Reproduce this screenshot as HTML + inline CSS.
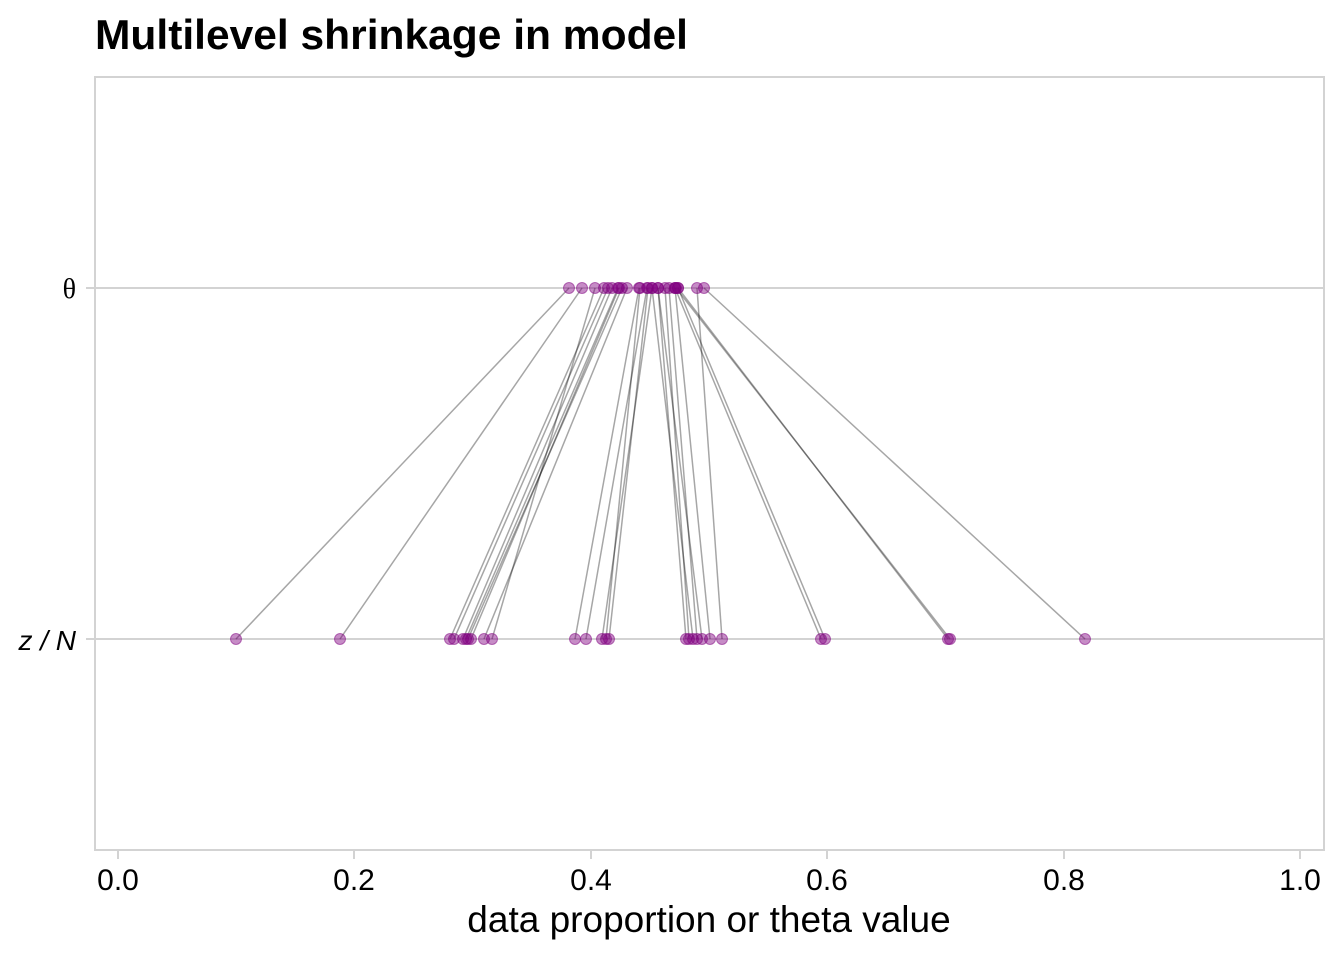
<!DOCTYPE html>
<html><head><meta charset="utf-8"><style>
body{margin:0;background:#fff;}
svg{display:block;font-family:"Liberation Sans",sans-serif;}
</style></head><body>
<svg width="1344" height="960" viewBox="0 0 1344 960">
<text x="95" y="49" font-size="42" font-weight="bold" fill="#000" textLength="593" lengthAdjust="spacingAndGlyphs">Multilevel shrinkage in model</text>
<rect x="95" y="77" width="1229" height="773" fill="none" stroke="#d3d3d3" stroke-width="2"/>
<line x1="95" y1="288" x2="1324" y2="288" stroke="#d3d3d3" stroke-width="2"/>
<line x1="95" y1="639" x2="1324" y2="639" stroke="#d3d3d3" stroke-width="2"/>
<g stroke="#d3d3d3" stroke-width="2">
<line x1="86" y1="288" x2="95" y2="288"/><line x1="86" y1="639" x2="95" y2="639"/>
<line x1="118" y1="850" x2="118" y2="859"/><line x1="354" y1="850" x2="354" y2="859"/><line x1="591" y1="850" x2="591" y2="859"/><line x1="827" y1="850" x2="827" y2="859"/><line x1="1064" y1="850" x2="1064" y2="859"/><line x1="1300" y1="850" x2="1300" y2="859"/>
</g>
<text x="76" y="298" font-size="28" text-anchor="end" font-family="Liberation Serif,serif">θ</text>
<text x="76" y="650" font-size="28" text-anchor="end" font-style="italic">z / N</text>
<g font-size="30" text-anchor="middle" fill="#000">
<text x="118" y="890">0.0</text><text x="354" y="890">0.2</text><text x="591" y="890">0.4</text><text x="827" y="890">0.6</text><text x="1064" y="890">0.8</text><text x="1300" y="890">1.0</text>
</g>
<text x="709" y="932" font-size="37" text-anchor="middle">data proportion or theta value</text>
<g stroke="#000" stroke-opacity="0.35" stroke-width="1.5">
<line x1="236" y1="639" x2="569" y2="288"/><line x1="340" y1="639" x2="582" y2="288"/>
<line x1="450" y1="639" x2="604" y2="288"/><line x1="454" y1="639" x2="608" y2="288"/>
<line x1="463" y1="639" x2="612" y2="288"/><line x1="466" y1="639" x2="618" y2="288"/>
<line x1="468" y1="639" x2="622" y2="288"/><line x1="471" y1="639" x2="619" y2="288"/>
<line x1="484" y1="639" x2="627" y2="288"/><line x1="492" y1="639" x2="595" y2="288"/>
<line x1="575" y1="639" x2="639" y2="288"/><line x1="586" y1="639" x2="647" y2="288"/>
<line x1="602" y1="639" x2="652" y2="288"/><line x1="606" y1="639" x2="640" y2="288"/>
<line x1="609" y1="639" x2="648" y2="288"/><line x1="686" y1="639" x2="658" y2="288"/>
<line x1="689" y1="639" x2="665" y2="288"/><line x1="693" y1="639" x2="652" y2="288"/>
<line x1="697" y1="639" x2="669" y2="288"/><line x1="702" y1="639" x2="658" y2="288"/>
<line x1="710" y1="639" x2="675" y2="288"/><line x1="722" y1="639" x2="697" y2="288"/>
<line x1="821" y1="639" x2="675" y2="288"/><line x1="825" y1="639" x2="678" y2="288"/>
<line x1="948" y1="639" x2="678" y2="288"/><line x1="950" y1="639" x2="676" y2="288"/>
<line x1="1085" y1="639" x2="704" y2="288"/>
</g>
<g fill="#800080" fill-opacity="0.45" stroke="#800080" stroke-opacity="0.5" stroke-width="1">
<circle cx="236" cy="639" r="5.5"/><circle cx="340" cy="639" r="5.5"/><circle cx="450" cy="639" r="5.5"/><circle cx="454" cy="639" r="5.5"/><circle cx="463" cy="639" r="5.5"/><circle cx="466" cy="639" r="5.5"/><circle cx="468" cy="639" r="5.5"/><circle cx="471" cy="639" r="5.5"/><circle cx="484" cy="639" r="5.5"/><circle cx="492" cy="639" r="5.5"/><circle cx="575" cy="639" r="5.5"/><circle cx="586" cy="639" r="5.5"/><circle cx="602" cy="639" r="5.5"/><circle cx="606" cy="639" r="5.5"/><circle cx="609" cy="639" r="5.5"/><circle cx="686" cy="639" r="5.5"/><circle cx="689" cy="639" r="5.5"/><circle cx="693" cy="639" r="5.5"/><circle cx="697" cy="639" r="5.5"/><circle cx="702" cy="639" r="5.5"/><circle cx="710" cy="639" r="5.5"/><circle cx="722" cy="639" r="5.5"/><circle cx="821" cy="639" r="5.5"/><circle cx="825" cy="639" r="5.5"/><circle cx="948" cy="639" r="5.5"/><circle cx="950" cy="639" r="5.5"/><circle cx="1085" cy="639" r="5.5"/>
<circle cx="569" cy="288" r="5.5"/><circle cx="582" cy="288" r="5.5"/><circle cx="604" cy="288" r="5.5"/><circle cx="608" cy="288" r="5.5"/><circle cx="612" cy="288" r="5.5"/><circle cx="618" cy="288" r="5.5"/><circle cx="622" cy="288" r="5.5"/><circle cx="619" cy="288" r="5.5"/><circle cx="627" cy="288" r="5.5"/><circle cx="595" cy="288" r="5.5"/><circle cx="639" cy="288" r="5.5"/><circle cx="647" cy="288" r="5.5"/><circle cx="652" cy="288" r="5.5"/><circle cx="640" cy="288" r="5.5"/><circle cx="648" cy="288" r="5.5"/><circle cx="658" cy="288" r="5.5"/><circle cx="665" cy="288" r="5.5"/><circle cx="652" cy="288" r="5.5"/><circle cx="669" cy="288" r="5.5"/><circle cx="658" cy="288" r="5.5"/><circle cx="675" cy="288" r="5.5"/><circle cx="697" cy="288" r="5.5"/><circle cx="675" cy="288" r="5.5"/><circle cx="678" cy="288" r="5.5"/><circle cx="678" cy="288" r="5.5"/><circle cx="676" cy="288" r="5.5"/><circle cx="704" cy="288" r="5.5"/>
</g>
</svg>
</body></html>
